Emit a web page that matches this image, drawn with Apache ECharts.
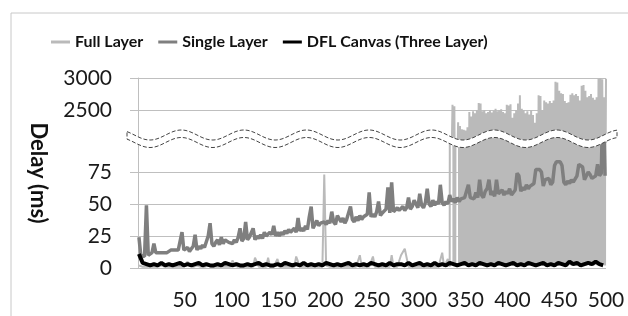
<!DOCTYPE html>
<html>
<head>
<meta charset="utf-8">
<script src="https://cdn.jsdelivr.net/npm/echarts@6/dist/echarts.min.js"></script>
<style>
html, body { margin: 0; padding: 0; background: #fff; }
#chart { width: 628px; height: 316px; }
</style>
</head>
<body>
<div id="chart"></div>
<script>
var seriesNames = ['Full Layer', 'Single Layer', 'DFL Canvas (Three Layer)'];
var xTicks = [0, 50, 100, 150, 200, 250, 300, 350, 400, 450, 500];
var lowTicks = [0, 25, 50, 75, 100];
var highTicks = [2000, 2500, 3000];

// Single Layer, x = 1, 3, 5 ... 499
var singleLayer = [
	24,10,10,9,49,10,11,12,19,12,11,12,13,12,13,12,13,14,13,14,13,14,15,28,14,
	14,16,13,15,17,26,14,17,15,18,16,17,25,35,19,17,20,22,18,24,19,22,23,20,21,
	19,22,20,24,31,21,23,36,22,24,23,31,22,25,23,26,23,28,25,24,28,26,33,25,28,
	25,28,26,29,27,30,28,27,31,28,39,29,31,29,33,30,40,48,31,34,37,33,35,34,36,
	34,37,35,44,36,34,41,40,36,39,35,38,37,48,38,36,40,37,41,38,40,39,42,59,40,
	42,40,44,52,41,43,42,46,63,43,67,44,43,47,45,44,48,45,47,55,46,48,53,52,47,
	58,49,47,51,62,50,48,53,49,52,50,65,51,49,52,50,57,52,54,51,55,52,54,53,55,
	54,65,55,56,54,59,55,69,57,55,60,62,69,57,60,56,69,58,57,61,57,60,58,62,57,
	59,61,74,72,60,63,61,65,62,64,63,66,77,76,77,75,64,69,68,70,65,67,80,83,82,
	83,80,67,65,68,66,69,67,66,72,81,80,79,69,68,75,73,70,69,72,81,72,74,150,72
];

// DFL Canvas, x = 1, 5, 9 ... 497
var dflCanvas = [
	11,4,3,2,3,2,4,2,3,2, 3,4,2,3,2,3,4,2,3,2, 2,3,2,4,3,2,3,2,2,3,
	2,3,4,2,3,2,2,3,2,4, 3,2,3,2,4,2,3,2,3,2, 4,3,2,3,2,3,4,2,3,2,
	3,2,4,3,2,3,2,4,2,3, 3,2,4,2,3,4,2,3,2,4, 2,3,2,4,3,2,3,4,2,3,
	2,4,3,2,3,2,4,3,2,3, 4,2,3,2,4,3,2,3,4,2, 3,2,4,3,2,5,3,4,2,3,
	4,3,5,3,2
];

// Full Layer, x = 1, 3 ... 335
var fullHead = [
	2,1,1,2,1,1,1,2,1,1,1,1,2,1,1,1,1,2,1,1,
	1,1,1,1,1,2,5,2,1,1,1,2,1,1,1,1,1,2,1,1,
	1,1,1,1,1,1,1,1,1,1,6,2,1,1,1,1,1,1,1,1,
	1,1,8,7,1,1,1,1,1,8,1,1,1,1,7,1,1,1,1,1,
	1,1,1,1,9,8,1,1,1,1,1,1,1,1,1,1,1,1,1,73,
	2,1,1,1,1,1,1,1,1,1,1,1,1,1,1,1,1,1,10,1,
	1,1,1,1,1,9,1,1,1,1,1,1,1,1,1,10,1,1,1,1,
	10,9,15,14,1,1,1,1,1,1,1,1,1,1,1,1,1,1,1,1,
	1,1,12,1,1,7,1,1
];
// Full Layer, x = 336, 337 ... 500
var fullTail = [
	2580,3,2560,2,2,2,
	2310,2,2250,3,2200,2,2190,3,2180,2,2230,3,2470,2,2400,3,2480,2,2450,3,2500,2,2610,3,
	2600,2,2480,3,2500,2,2450,3,2470,2,2500,3,2460,2,
	2490,2,2520,3,2480,2,2500,3,2510,2,2470,3,2450,2,2580,3,2570,2,2590,3,2380,2,2450,3,
	2500,2,2600,3,2730,2,2520,3,2500,2,2450,3,2480,2,2430,3,2500,2,2420,3,2300,2,2450,3,
	2730,2,2720,3,2500,2,2650,3,2620,2,2600,3,2640,2,2610,3,2650,2,2940,3,2930,2,2800,3,
	2760,2,2750,3,2640,2,
	2610,2,2620,3,2740,2,2760,3,2730,2,2750,3,2720,2,2650,3,2880,2,2890,3,2800,2,2700,3,
	2720,2,2750,3,2690,2,2660,3,2700,2,2990,3,3000,2,2980,3,2700,2,2990
];

var fullData = fullHead.map(function(v, i) { return [1 + i * 2, v]; })
	.concat(fullTail.map(function(v, i) { return [336 + i, v]; }));
var singleData = singleLayer.map(function(v, i) { return [1 + i * 2, v]; });
var dflData = dflCanvas.map(function(v, i) { return [1 + i * 4, v]; });

var gridColor = '#bfbfbf';
var font = 'Lato';

// wavy break band
var waveTop = [], waveBot = [];
for (var px = 127; px <= 617; px++) {
	var wy = 135 + 5 * Math.cos(2 * Math.PI * (px - 150) / 62.6);
	waveTop.push([px, wy]);
	waveBot.unshift([px, wy + 7.5]);
}

var chart = echarts.init(document.getElementById('chart'));

function yAxis(grid, ticks, hideMin, hideMax) {
	return {
		type : 'value',
		gridIndex : grid,
		min : ticks[0],
		max : ticks[ticks.length - 1],
		interval : ticks[1] - ticks[0],
		axisLine : { show : true, lineStyle : { color : gridColor } },
		axisTick : { show : true, length : 8, lineStyle : { color : gridColor } },
		splitLine : {
			show : true,
			showMinLine : !hideMin,
			showMaxLine : !hideMax,
			lineStyle : { color : gridColor }
		},
		axisLabel : {
			margin : 26,
			showMinLabel : !hideMin,
			showMaxLabel : !hideMax,
			formatter : function(v) { return String(v); },
			fontFamily : font,
			fontSize : 21,
			color : '#1a1a1a'
		}
	};
}

var line = function(name, data, color, width, x, y) {
	return {
		name : name,
		type : 'line',
		xAxisIndex : x,
		yAxisIndex : y,
		data : data,
		symbol : 'none',
		clip : true,
		animation : false,
		itemStyle : { color : color },
		lineStyle : { color : color, width : width }
	};
};

var option = {
	animation : false,
	legend : {
		data : seriesNames,
		left : 51,
		top : 34,
		padding : 0,
		itemGap : 15,
		itemWidth : 19,
		itemHeight : 3,
		icon : 'rect',
		textStyle : { fontFamily : font, fontWeight : 'bold', fontSize : 16, color : '#111' }
	},
	grid : [
		{ left : 138, right : 22, top : 140, height : 128 },
		{ left : 138, right : 22, top : 78, height : 64 }
	],
	xAxis : [ {
		type : 'value',
		gridIndex : 0,
		min : xTicks[0],
		max : xTicks[xTicks.length - 1],
		interval : xTicks[1] - xTicks[0],
		axisLine : { show : false },
		axisTick : { show : false },
		splitLine : { show : false },
		axisLabel : { showMinLabel : false, margin : 22, fontFamily : font, fontSize : 21, color : '#1a1a1a' }
	}, {
		type : 'value',
		gridIndex : 1,
		min : xTicks[0],
		max : xTicks[xTicks.length - 1],
		show : false
	} ],
	yAxis : [ yAxis(0, lowTicks, false, true), yAxis(1, highTicks, true, false) ],
	series : [
		line(seriesNames[0], fullData, '#bababa', 2, 1, 1),
		line(seriesNames[0], fullData, '#bababa', 2, 0, 0),
		line(seriesNames[1], singleData, '#7f7f7f', 3.5, 0, 0),
		line(seriesNames[2], dflData, '#000000', 4, 0, 0)
	],
	graphic : [ {
		type : 'rect',
		z : -10,
		shape : { x : 11, y : 13, width : 700, height : 400 },
		style : { fill : 'none', stroke : '#c8c8c8', lineWidth : 1 }
	}, {
		type : 'polygon',
		z : 100,
		shape : { points : waveTop.concat(waveBot) },
		style : { fill : '#fff', stroke : '#444', lineWidth : 1, lineDash : [ 4, 2 ] }
	}, {
		type : 'text',
		z : 100,
		x : 38,
		y : 173,
		rotation : -Math.PI / 2,
		style : {
			text : 'Delay (ms)',
			fontFamily : font,
			fontWeight : 'bold',
			fontSize : 22,
			fill : '#111',
			align : 'center',
			verticalAlign : 'middle'
		}
	} ]
};
chart.setOption(option);
window.onresize = chart.resize;
</script>
</body>
</html>
